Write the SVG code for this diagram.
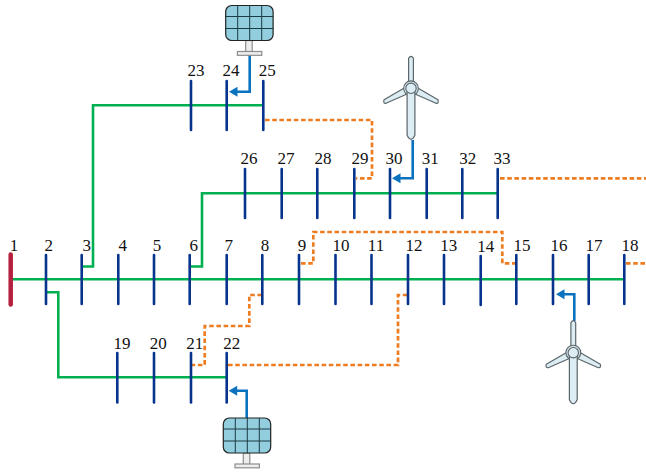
<svg xmlns="http://www.w3.org/2000/svg" xmlns:xlink="http://www.w3.org/1999/xlink" width="646" height="472" viewBox="0 0 646 472">
<style>
text{font-family:"Liberation Serif","Times New Roman",serif;font-size:17px;fill:#111;text-anchor:middle}
.bus{stroke:#06338c;stroke-width:2.6;stroke-linecap:round;fill:none}
.line{stroke:#00b050;stroke-width:2.6;fill:none}
.tie{stroke:#ee7d22;stroke-width:2.7;stroke-dasharray:4.6 2.6;fill:none}
.feed{stroke:#0b72c0;stroke-width:2.6;fill:none}
.arrow{fill:#0b72c0}
.panel{fill:#92cedd;stroke:#222;stroke-width:1.2}
.grid{stroke:#1c3b45;stroke-width:1;fill:none}
.mount{fill:#eee;stroke:#8c8c8c;stroke-width:1.2}
.blade{fill:#dcedf3;stroke:#5b666b;stroke-width:1.2;stroke-linejoin:round}
</style>
<defs>
<g id="pv">
<rect class="mount" x="20" y="35" width="6.5" height="12"/>
<rect class="mount" x="11.7" y="46" width="24.4" height="3.8"/>
<rect class="panel" x="0" y="0" width="47.4" height="35" rx="6"/>
<path class="grid" d="M12 0V35M24 0V35M36 0V35M0 11H47.4M0 23H47.4"/>
</g>
<g id="wt">
<path class="blade" d="M-2 -3L-27 11.5Q-28 15.5 -25 15L0 4Z"/>
<path class="blade" d="M2 -3L27 11.5Q28 15.5 25 15L0 4Z"/>
<path class="blade" d="M-2.4 -5V-30Q0 -34 2.4 -30V-5Z"/>
<circle r="7.4" fill="#cfe0e6" stroke="#5b666b" stroke-width="1.1"/>
<path class="blade" d="M-3.9 3V47Q0 55 3.9 47V3Z"/>
<circle r="5.2" fill="#dcedf3" stroke="#5b666b" stroke-width="1.1"/>
</g>
</defs>
<g id="connectors">
<path class="line" d="M12 279.3H624"/>
<path class="line" d="M82 266.5H93V105.3H263"/>
<path class="line" d="M190 266.5H202V193.3H498"/>
<path class="line" d="M46 292.3H58.3V377.3H227"/>
<path class="tie" d="M265 120H372V178.3H356"/>
<path class="tie" d="M500 178.3H646"/>
<path class="tie" d="M262 295H249.3V326H204.7V365H192"/>
<path class="tie" d="M228 365H398V295H408"/>
<path class="tie" d="M301 263.3H313.3V232H502.3V263.3H516"/>
<path class="tie" d="M626 263.3H646"/>
<path class="feed" d="M249.7 55V91.7H235"/><polygon class="arrow" points="229,91.7 237.5,86.7 237.5,96.7"/>
<path class="feed" d="M246.7 418V390.7H235"/><polygon class="arrow" points="228.7,390.7 237.2,385.7 237.2,395.7"/>
<path class="feed" d="M412.7 140V178.3H398"/><polygon class="arrow" points="392,178.3 400.5,173.3 400.5,183.3"/>
<path class="feed" d="M574.3 321V294.3H562"/><polygon class="arrow" points="556,294.3 564.5,289.3 564.5,299.3"/>
</g>
<g id="bus1"><path d="M10.7 254.5V304.5" fill="none" stroke="#b5203f" stroke-width="4.5" stroke-linecap="round"/><text x="14" y="251">1</text></g>
<g id="bus2"><path class="bus" d="M46 255V304"/><text x="48.7" y="251">2</text></g>
<g id="bus3"><path class="bus" d="M81.7 255V304"/><text x="86.7" y="251">3</text></g>
<g id="bus4"><path class="bus" d="M118.3 255V304"/><text x="122.7" y="251">4</text></g>
<g id="bus5"><path class="bus" d="M154 255V304"/><text x="157" y="251">5</text></g>
<g id="bus6"><path class="bus" d="M189.7 255V304"/><text x="193.7" y="251">6</text></g>
<g id="bus7"><path class="bus" d="M226.7 255V304"/><text x="228.7" y="251">7</text></g>
<g id="bus8"><path class="bus" d="M262.3 255V304"/><text x="265" y="251">8</text></g>
<g id="bus9"><path class="bus" d="M299 255V304"/><text x="302" y="251">9</text></g>
<g id="bus10"><path class="bus" d="M335.5 255V304"/><text x="341" y="251">10</text></g>
<g id="bus11"><path class="bus" d="M371.5 255V304"/><text x="376" y="251">11</text></g>
<g id="bus12"><path class="bus" d="M408 255V304"/><text x="414" y="251">12</text></g>
<g id="bus13"><path class="bus" d="M444 255V304"/><text x="448.7" y="251">13</text></g>
<g id="bus14"><path class="bus" d="M480.7 256V305"/><text x="485.7" y="251.7">14</text></g>
<g id="bus15"><path class="bus" d="M516.3 255V304"/><text x="522" y="251">15</text></g>
<g id="bus16"><path class="bus" d="M553 255V304"/><text x="559" y="251">16</text></g>
<g id="bus17"><path class="bus" d="M588.7 255V304"/><text x="594" y="251">17</text></g>
<g id="bus18"><path class="bus" d="M624.3 255V304"/><text x="630" y="251">18</text></g>
<g id="bus19"><path class="bus" d="M117.3 353V402.5"/><text x="122" y="349">19</text></g>
<g id="bus20"><path class="bus" d="M154 353V402.5"/><text x="158.3" y="349">20</text></g>
<g id="bus21"><path class="bus" d="M191 353V402.5"/><text x="194.7" y="349">21</text></g>
<g id="bus22"><path class="bus" d="M226.7 353V402.5"/><text x="231.7" y="349">22</text></g>
<g id="bus23"><path class="bus" d="M191 81V130"/><text x="196" y="76">23</text></g>
<g id="bus24"><path class="bus" d="M226.7 81V130"/><text x="231" y="76">24</text></g>
<g id="bus25"><path class="bus" d="M263.3 81V130"/><text x="267.3" y="76">25</text></g>
<g id="bus26"><path class="bus" d="M245 169V218"/><text x="249" y="163.5">26</text></g>
<g id="bus27"><path class="bus" d="M281.7 169V218"/><text x="286" y="163.5">27</text></g>
<g id="bus28"><path class="bus" d="M317.3 169V218"/><text x="323" y="163.5">28</text></g>
<g id="bus29"><path class="bus" d="M354.3 169V218"/><text x="360" y="163.5">29</text></g>
<g id="bus30"><path class="bus" d="M390 169V218"/><text x="394" y="163.5">30</text></g>
<g id="bus31"><path class="bus" d="M426.7 169V218"/><text x="430.3" y="163.5">31</text></g>
<g id="bus32"><path class="bus" d="M462.3 169V218"/><text x="467.7" y="163.5">32</text></g>
<g id="bus33"><path class="bus" d="M497.7 169V218"/><text x="502" y="163.5">33</text></g>
<g id="pv-top"><use xlink:href="#pv" href="#pv" x="225.7" y="5.5"/></g>
<g id="pv-bottom"><use xlink:href="#pv" href="#pv" x="223.3" y="418"/></g>
<g id="wind-top"><use xlink:href="#wt" href="#wt" x="411" y="88.3"/></g>
<g id="wind-bottom"><use xlink:href="#wt" href="#wt" x="573.3" y="352.7"/></g>
</svg>
